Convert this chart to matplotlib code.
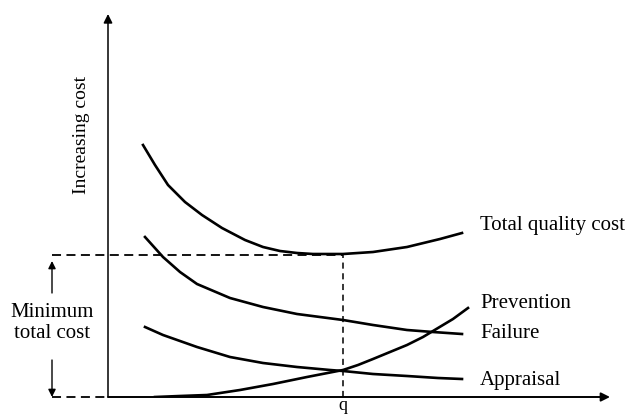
import matplotlib.pyplot as plt

plt.rcParams['font.family'] = ['Liberation Serif', 'DejaVu Serif']

# curve points (x = quality level, y = cost, arbitrary units)
total_x = [35, 47, 60, 77, 94, 114, 137, 155, 172, 189, 205, 235, 265, 299, 332, 354]
total_y = [252, 232, 212, 195, 182, 169, 157, 150, 146, 144, 143, 143, 145, 150, 158, 164]

failure_x = [37, 55, 72, 89, 122, 155, 189, 235, 265, 299, 325, 354]
failure_y = [160, 140, 125, 113, 99, 90, 83, 77, 72, 67, 65, 63]

appraisal_x = [37, 55, 89, 122, 155, 189, 222, 235, 265, 299, 330, 354]
appraisal_y = [70, 62, 50, 40, 34, 30, 27, 26, 23, 21, 19, 18]

prevention_x = [47, 72, 99, 132, 165, 199, 235, 250, 265, 282, 299, 315, 330, 345, 360]
prevention_y = [0, 1, 2, 7, 13, 20, 27, 32, 38, 45, 52, 60, 69, 78, 89]

q_x = 235
min_cost = 142

W, H = 633, 416
fig = plt.figure(figsize=(W / 100, H / 100), dpi=100)
ax = fig.add_axes([108 / W, 19 / H, 502 / W, 383 / H])
ax.set_xlim(0, 502)
ax.set_ylim(0, 383)
ax.axis('off')

lw = 1.9
for xs, ys in [(total_x, total_y), (failure_x, failure_y),
               (appraisal_x, appraisal_y), (prevention_x, prevention_y)]:
    ax.plot(xs, ys, color='black', lw=lw, solid_joinstyle='round')

# axes with arrows
ax.annotate('', xy=(0, 383), xytext=(0, 0),
            arrowprops=dict(arrowstyle='-|>', color='black', lw=1.1,
                            mutation_scale=13, shrinkA=0, shrinkB=0),
            annotation_clip=False)
ax.annotate('', xy=(502, 0), xytext=(0, 0),
            arrowprops=dict(arrowstyle='-|>', color='black', lw=1.4,
                            mutation_scale=13, shrinkA=0, shrinkB=0),
            annotation_clip=False)

# dashed guides
ax.plot([-56, q_x], [min_cost, min_cost], color='black', lw=1.3,
        ls=(0, (5, 3)), clip_on=False)
ax.plot([-56, 0], [0, 0], color='black', lw=1.3, ls=(0, (5, 3)), clip_on=False)
ax.plot([q_x, q_x], [0, min_cost], color='black', lw=1.1, ls=(0, (4, 3)))

# minimum total cost arrows
ax.annotate('', xy=(-56, 136), xytext=(-56, 104),
            arrowprops=dict(arrowstyle='-|>', color='black', lw=1.0,
                            mutation_scale=11, shrinkA=0, shrinkB=0),
            annotation_clip=False)
ax.annotate('', xy=(-56, 0), xytext=(-56, 37),
            arrowprops=dict(arrowstyle='-|>', color='black', lw=1.0,
                            mutation_scale=11, shrinkA=0, shrinkB=0),
            annotation_clip=False)
ax.text(-56, 74, 'Minimum\ntotal cost', ha='center', va='center',
        fontsize=15, linespacing=1.1, clip_on=False)

ax.text(-27, 262, 'Increasing cost', rotation=90, ha='center', va='center',
        fontsize=14, clip_on=False)
ax.text(q_x, -9, 'q', ha='center', va='center', fontsize=13, clip_on=False)

ax.text(372, 167, 'Total quality cost', ha='left', va='baseline', fontsize=15,
        clip_on=False)
ax.text(372, 89, 'Prevention', ha='left', va='baseline', fontsize=15)
ax.text(372, 59, 'Failure', ha='left', va='baseline', fontsize=15)
ax.text(372, 12, 'Appraisal', ha='left', va='baseline', fontsize=15)

fig.savefig('out.png', dpi=100, facecolor='white')
